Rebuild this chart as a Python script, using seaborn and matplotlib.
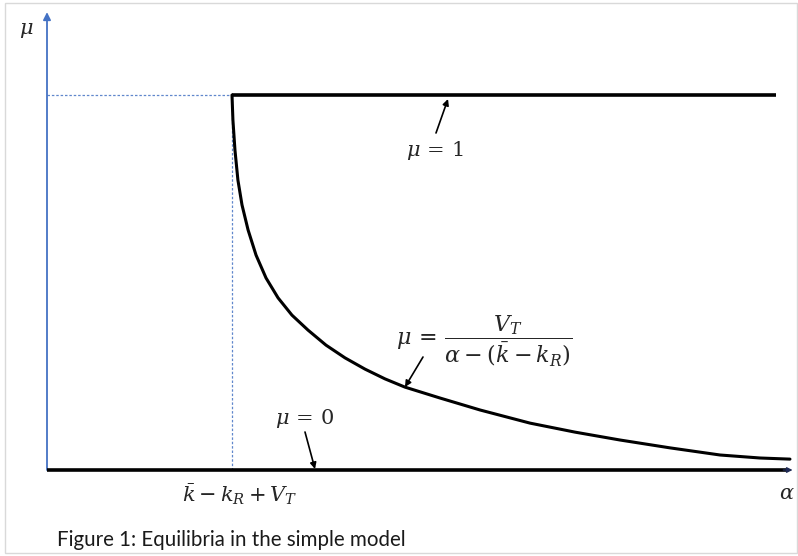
import numpy as np
import pandas as pd
import matplotlib
matplotlib.use("Agg")
import matplotlib.pyplot as plt
from matplotlib.patches import Rectangle
import seaborn as sns

# equilibrium curve mu = V_T / (alpha - (kbar - k_R))
alpha_curve = [1.000, 1.005, 1.016, 1.032, 1.054, 1.087, 1.130, 1.184, 1.249, 1.324,
               1.411, 1.508, 1.611, 1.719, 1.827, 1.935, 2.124, 2.341, 2.611, 2.854,
               3.097, 3.368, 3.638, 3.854, 4.016]
mu_curve = [1.000, 0.933, 0.853, 0.773, 0.707, 0.640, 0.573, 0.512, 0.459, 0.413,
            0.373, 0.333, 0.299, 0.269, 0.243, 0.221, 0.192, 0.160, 0.125, 0.101,
            0.080, 0.059, 0.040, 0.032, 0.029]

alpha_star = 1.0      # kbar - k_R + V_T
alpha_max = 3.94      # end of the mu = 1 branch
alpha_axis_end = 4.03
mu_axis_end = 1.221

BLUE = "#4472C4"

sns.set_style("white")
plt.rcParams["mathtext.fontset"] = "dejavuserif"

fig = plt.figure(figsize=(7.98, 5.56), dpi=100)
ax = fig.add_axes([0, 0, 1, 1])
ax.set_xlim(-47 / 185, (798 - 47) / 185)
ax.set_ylim(-86 / 375, 470 / 375)
ax.axis("off")


def px(x, y):
    # pixel position in the picture -> data coordinates
    return (x - 47) / 185, (470 - y) / 375


# frame round the picture
fig.patches.append(Rectangle((5 / 798, 3 / 556), 792 / 798, 550 / 556, transform=fig.transFigure,
                             fill=False, edgecolor="#d9d9d9", lw=1))

# dashed guides
ax.plot([0, alpha_star], [1, 1], ls=(0, (2, 1.5)), color=BLUE, lw=0.9, alpha=0.85)
ax.plot([alpha_star, alpha_star], [0, 1], ls=(0, (2, 1.5)), color=BLUE, lw=0.9, alpha=0.85)

# axes
ax.annotate("", xy=(0, mu_axis_end), xytext=(0, 0),
            arrowprops=dict(arrowstyle="-|>", color=BLUE, lw=1.3, mutation_scale=11, shrinkA=0, shrinkB=0))
ax.plot([0, alpha_axis_end - 0.03], [0, 0], color="black", lw=2.6, solid_capstyle="butt", zorder=3)
ax.annotate("", xy=(alpha_axis_end, 0), xytext=(alpha_axis_end - 0.05, 0),
            arrowprops=dict(arrowstyle="-|>", color="#1f2a55", lw=1, mutation_scale=8, shrinkA=0, shrinkB=0))

# equilibria
ax.plot([alpha_star, alpha_max], [1, 1], color="black", lw=2.6, solid_capstyle="butt", zorder=3)
df = pd.DataFrame({"alpha": alpha_curve, "mu": mu_curve})
sns.lineplot(data=df, x="alpha", y="mu", sort=False, color="black", lw=2.2, ax=ax, zorder=3)

# labels
fs = 15
ax.text(*px(26, 30), r"$\mu$", fontsize=fs, ha="center", va="center")
ax.text(*px(787, 493), r"$\alpha$", fontsize=fs, ha="center", va="center")
ax.text(*px(240, 494), r"$\bar{k} - k_R + V_T$", fontsize=fs, ha="center", va="center")

ax.text(*px(435, 150), r"$\mu\,=\,1$", fontsize=fs, ha="center", va="center")
ax.text(*px(305, 418), r"$\mu\,=\,0$", fontsize=fs, ha="center", va="center")
ax.text(*px(484, 341), r"$\mu\,=\,\dfrac{V_T}{\alpha - (\bar{k} - k_R)}$", fontsize=16, ha="center", va="center")

arr = dict(arrowstyle="-|>", color="black", lw=1.2, mutation_scale=9, shrinkA=0, shrinkB=0)
ax.annotate("", xy=px(448, 99), xytext=px(436, 133), arrowprops=arr)
ax.annotate("", xy=px(315, 469), xytext=px(305, 432), arrowprops=arr)
ax.annotate("", xy=px(405, 387), xytext=px(423, 357), arrowprops=arr)

fig.text(57 / 798, 1 - 540 / 556, "Figure 1: Equilibria in the simple model", fontsize=14.8,
         family=["Lato", "DejaVu Sans"], color="#1a1a1a", ha="left", va="center")

fig.savefig("out.png", dpi=100)
